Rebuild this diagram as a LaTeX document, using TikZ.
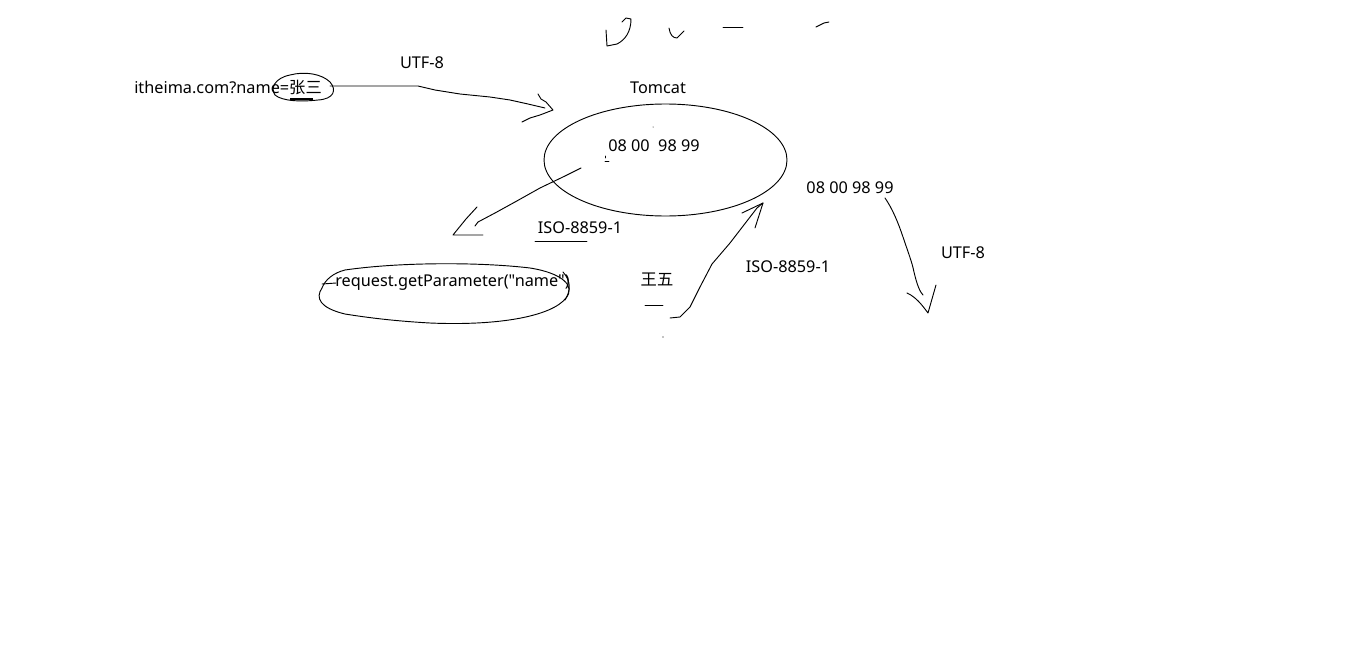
\documentclass[tikz,border=0pt]{standalone}
\usepackage{fontspec}
\setmainfont{Noto Sans}
\newfontfamily\lat{Noto Sans}
\newfontfamily\cjk{Noto Sans CJK SC}
\begin{document}
\begin{tikzpicture}[x=0.75pt,y=-0.75pt,
  ink/.style={draw=black,line width=0.7pt,line join=round,line cap=round},
  lbl/.style={inner sep=0pt,font=\lat\fontsize{12.2}{14}\selectfont},
  ]
\useasboundingbox[fill=white] (0,0) rectangle (1354,657);
% texts
\node[lbl,anchor=west] (url) at (134,88) {itheima.com?name={\cjk 张三}};
\node[lbl] (utf1) at (422,63) {UTF-8};
\node[lbl] (tomcat) at (658,88) {Tomcat};
\node[lbl] (bytes1) at (654,146) {08 00\ \ 98 99};
\node[lbl] (iso1) at (580,228) {ISO-8859-1};
\node[lbl,anchor=west] (req) at (335,283) {request.getParameter("name")};
\node[lbl] (ww) at (657,279) {\cjk 王五};
\node[lbl] (iso2) at (788,267) {ISO-8859-1};
\node[lbl] (bytes2) at (850,188) {08 00 98 99};
\node[lbl] (utf2) at (963,253) {UTF-8};
% Tomcat ellipse
\draw[ink] (665.5,160) ellipse [x radius=121.5, y radius=56];
\coordinate (tc) at (665.5,160);
% loop around =张三
\draw[ink] (290,75) .. controls (305,71) and (322,74) .. (330,82)
  .. controls (337,90) and (334,99) .. (318,100)
  .. controls (300,102) and (282,101) .. (275,95)
  .. controls (270,88) and (275,78) .. (290,75);
\draw[black,line width=1.6pt] (290,99) -- (313,99);
% arrow url -> tomcat
\draw[ink] (330,86) -- (418,86) -- (435,90) -- (460,94) -- (490,97) -- (510,100) -- (528,104) -- (545,108);
\draw[ink] (538,94) -- (541,99) -- (546,102) -- (553,110) -- (540,115) -- (530,118) -- (522,122);
% arrow tomcat -> request
\draw[ink] (581,168) -- (565,176) -- (540,188) -- (515,202) -- (495,213) -- (478,222) -- (475,226);
\draw[ink] (477,207) -- (466,219) -- (453,235) -- (483,235);
\draw[ink] (535,241) -- (587,241);
% request loop
\draw[ink] (322,284) -- (336,283);
\draw[ink] (345,270) .. controls (400,262) and (480,262) .. (530,268)
  .. controls (562,273) and (576,286) .. (566,298)
  .. controls (552,316) and (500,326) .. (430,323)
  .. controls (395,321) and (370,318) .. (345,314)
  .. controls (320,308) and (315,298) .. (322,288)
  .. controls (325,280) and (333,273) .. (345,270);
\draw[ink] (563,272) .. controls (572,282) and (570,292) .. (565,300);
% 王五 marks
\draw[ink] (645,305) -- (663,305);
\fill (663,337) circle (0.6);
% arrow up into tomcat
\draw[ink] (670,318) -- (680,317) -- (690,307) -- (700,287) -- (712,264) -- (730,243) -- (757,208) -- (763,203);
\draw[ink] (742,213) -- (763,203) -- (755,228);
% arrow down
\draw[ink] (885,198) .. controls (892,208) and (898,222) .. (903,237)
  .. controls (908,252) and (912,262) .. (914,272)
  .. controls (917,285) and (920,292) .. (923,295);
\draw[ink] (907,293) .. controls (916,297) and (922,305) .. (928,313) -- (936,285);
% small marks inside ellipse
\fill (653,127) circle (0.5);
\draw[ink] (605,161) -- (609,161);
\draw[ink] (605,156) -- (605,158);
% top scribbles
\draw[ink] (622,22) -- (626,18) -- (631,19) .. controls (631,32) and (625,40) .. (617,44) -- (607,46) -- (606,30);
\draw[ink] (669,28) .. controls (670,35) and (673,38) .. (677,38) -- (684,31);
\draw[ink] (723,27) -- (743,27);
\draw[ink] (816,27) -- (820,25) -- (824,23) -- (829,22);
\end{tikzpicture}
\end{document}
